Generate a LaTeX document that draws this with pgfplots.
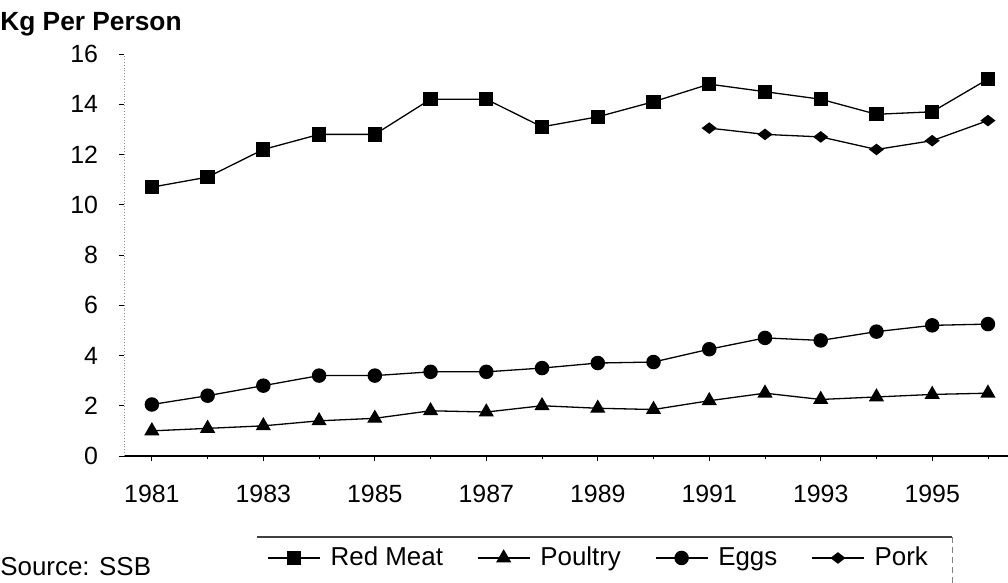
\documentclass[border=0pt]{standalone}
\usepackage{fontspec}
\setmainfont{Liberation Sans}
\usepackage{pgfplots}
\pgfplotsset{compat=1.18}
\begin{document}
\begin{tikzpicture}
\useasboundingbox (0,0) rectangle (504bp,291.5bp);
\begin{axis}[
  at={(62bp,63.5bp)}, anchor=south west,
  scale only axis, width=442bp, height=201bp,
  xmin=1980.5, xmax=1996.36, ymin=0, ymax=16,
  clip=false,
  axis x line=bottom, axis y line=left,
  axis line style={-},
  x axis line style={black, line width=0.6bp},
  y axis line style={black!45, densely dotted, line width=0.45bp},
  xtick={1981,1983,...,1995},
  minor xtick={1982,1984,...,1996},
  ytick={0,2,...,16},
  tick align=outside,
  major tick length=2.5bp, minor tick length=1.5bp,
  tick style={black, line width=0.4bp},
  /pgf/number format/assume math mode=true,
  /pgf/number format/1000 sep={},
  ticklabel style={font=\fontsize{12.5}{14}\selectfont},
  xticklabel style={yshift=-8.5bp},
  yticklabel style={xshift=-7bp},
  every axis plot/.append style={black, line width=0.65bp},
  legend style={at={(0.1618,-0.2537)}, anchor=west, draw=none, fill=none,
    inner sep=0pt, nodes={inner sep=0pt, anchor=west},
    font=\fontsize{13}{15}\selectfont, legend columns=4,
    /tikz/every odd column/.append style={column sep=5bp},
    /tikz/every even column/.append style={column sep=17bp}},
  legend image code/.code={\draw[mark repeat=2,mark phase=2] plot coordinates {(0bp,0bp)(13bp,0bp)(26bp,0bp)};},
]
\addplot[mark=square*, mark size=3.25bp] coordinates {
(1981,10.7)(1982,11.1)(1983,12.2)(1984,12.8)(1985,12.8)(1986,14.2)(1987,14.2)(1988,13.1)
(1989,13.5)(1990,14.1)(1991,14.8)(1992,14.5)(1993,14.2)(1994,13.6)(1995,13.7)(1996,15.0)};
\addlegendentry{Red Meat}
\addplot[mark=triangle*, mark size=3.75bp] coordinates {
(1981,1.0)(1982,1.1)(1983,1.2)(1984,1.4)(1985,1.5)(1986,1.8)(1987,1.75)(1988,2.0)
(1989,1.9)(1990,1.85)(1991,2.2)(1992,2.5)(1993,2.25)(1994,2.35)(1995,2.45)(1996,2.5)};
\addlegendentry{Poultry}
\addplot[mark=*, mark size=3.3bp] coordinates {
(1981,2.05)(1982,2.4)(1983,2.8)(1984,3.2)(1985,3.2)(1986,3.35)(1987,3.35)(1988,3.5)
(1989,3.7)(1990,3.74)(1991,4.25)(1992,4.7)(1993,4.6)(1994,4.95)(1995,5.2)(1996,5.25)};
\addlegendentry{Eggs}
\addplot[mark=diamond*, mark size=2.5bp, mark options={xscale=1.73}] coordinates {
(1991,13.05)(1992,12.8)(1993,12.7)(1994,12.2)(1995,12.55)(1996,13.35)};
\addlegendentry{Pork}
\draw[black!75, line width=0.6bp] (axis description cs:0.1505,-0.2015) -- (axis description cs:0.9367,-0.2015);
\draw[black!50, densely dashed, line width=0.4bp] (axis description cs:0.9367,-0.2015) -- (axis description cs:0.9367,-0.316);
\node[anchor=west, inner sep=0pt, font=\fontsize{13}{15}\selectfont] at (axis description cs:-0.1403,-0.276) {Source: SSB};
\node[anchor=base west, inner sep=0pt, font=\bfseries\fontsize{13.2}{15}\selectfont] at (axis description cs:-0.1403,1.0597) {Kg Per Person};
\end{axis}
\end{tikzpicture}
\end{document}
